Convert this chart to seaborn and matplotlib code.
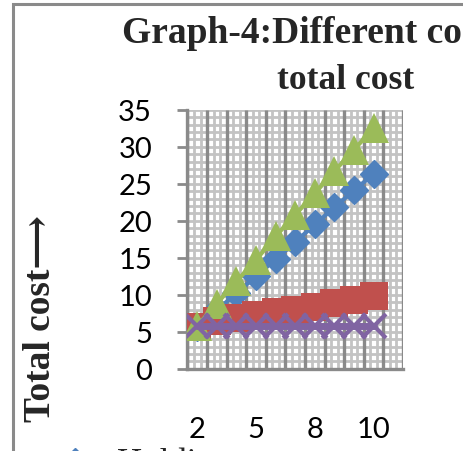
import numpy as np
import pandas as pd
import matplotlib
matplotlib.use("Agg")
import matplotlib.pyplot as plt
import seaborn as sns
from matplotlib.lines import Line2D
from matplotlib.patches import Rectangle

# ---------------- data ----------------
holding_cost = [5.6, 7.9, 10.2, 12.5, 14.8, 17.1, 19.5, 21.8, 24.1, 26.3]
second_cost = [5.7, 6.4, 6.9, 7.3, 7.6, 8.0, 8.4, 8.9, 9.3, 9.8]
total_cost = [5.8, 8.8, 11.8, 14.7, 17.9, 20.8, 23.7, 26.7, 29.6, 32.5]
fourth_cost = [5.8, 5.8, 5.8, 5.8, 5.8, 5.8, 5.8, 5.8, 5.8, 5.8]
x_tick_index = [0, 3, 6, 9]
x_tick_labels = ["2", "5", "8", "10"]
y_ticks = [0, 5, 10, 15, 20, 25, 30, 35]

# ---------------- figure ----------------
W, H = 464, 452
sns.set_style("white")
plt.rcParams["font.family"] = ["Lato", "DejaVu Sans"]

def fx(px):
    return px / W

def fy(py):
    return 1 - py / H

fig = plt.figure(figsize=(W / 100, H / 100), dpi=100)
ax = fig.add_axes([fx(187.5), fy(369.7), (403 - 187.5) / W, (369.7 - 110.7) / H])

n_cat = len(holding_cost)
idx = np.arange(n_cat)
df = pd.DataFrame({"cat": idx, "holding": holding_cost, "second": second_cost,
                   "total": total_cost, "fourth": fourth_cost})

light = "#c3c3c3"
dark = "#8a8a8a"

# grid
ax.set_xlim(-0.5, n_cat + 0.5)
ax.set_ylim(0, 35)
ax.set_yticks(y_ticks)
ax.set_yticks(np.arange(0, 36, 1), minor=True)
ax.grid(which="both", axis="y", color=light, lw=2, zorder=0)
bounds = np.arange(-0.5, n_cat + 0.6, 1)
thirds = np.concatenate([bounds[:-1] + 1 / 3, bounds[:-1] + 2 / 3])
ax.vlines(thirds, 0, 35, color=light, lw=2, zorder=0.5)
ax.vlines(bounds, 0, 35, color=dark, lw=2.4, zorder=0.6)
ax.set_axisbelow(True)

specs = [
    ("holding", "#4F81BD", "D", 14, 3, 1),
    ("second", "#C0504D", "s", 20, 3, 0),
    ("total", "#9BBB59", "^", 21, 3, 0),
    ("fourth", "#8064A2", "x", 17, 5, 3),
]
for i, (col, c, m, ms, lw, mew) in enumerate(specs):
    sns.lineplot(data=df, x="cat", y=col, ax=ax, color=c, marker=m, markersize=ms,
                 linewidth=lw, markeredgecolor=c, markeredgewidth=mew if mew else 0,
                 legend=False, zorder=3 + i)

# ticks
ax.set_xticks(x_tick_index)
ax.set_xticklabels(x_tick_labels)
ax.set_xticks(bounds, minor=True)
ax.tick_params(axis="x", which="major", length=0, pad=34, labelsize=21, colors="black")
ax.tick_params(axis="x", which="minor", length=9, width=2, color=dark, direction="out")
ax.tick_params(axis="y", which="major", length=7.5, width=2, color=dark, pad=18, labelsize=21,
               labelcolor="black", direction="out", left=True)
ax.tick_params(axis="y", which="minor", length=0)
ax.set_xlabel("")
ax.set_ylabel("")
for s in ["top", "right"]:
    ax.spines[s].set_visible(False)
for s in ["left", "bottom"]:
    ax.spines[s].set_color(dark)
    ax.spines[s].set_linewidth(2.4)

serif = ["Liberation Serif", "DejaVu Serif", "DejaVu Sans"]

# title (cut off by the image edge as in the reference)
fig.text(fx(122), fy(43), "Graph-4:Different costs vs", ha="left", va="baseline",
         fontsize=27, fontweight="bold", family=serif)
fig.text(fx(346), fy(89), "total cost", ha="center", va="baseline",
         fontsize=25.5, fontweight="bold", family=serif)

# y label
fig.text(fx(41), fy(318), "Total cost\u27f6", rotation=90, ha="center", va="center",
         fontsize=27, fontweight="bold", family=serif)

# chart border
fig.patches.append(Rectangle((fx(13), -1), 2, fy(5) + 1, transform=fig.transFigure,
                             fill=False, edgecolor=dark, lw=2.2))

# legend fragment at the bottom (cut off)
fig.lines.append(Line2D([fx(55), fx(95)], [fy(460), fy(460)], transform=fig.transFigure,
                        color="#4F81BD", lw=3))
fig.lines.append(Line2D([fx(75)], [fy(459)], transform=fig.transFigure, color="#4F81BD",
                        marker="D", markersize=10, lw=0))
fig.text(fx(117), fy(473), "Holding cost", ha="left", va="baseline", fontsize=25, family=serif)

fig.savefig("out.png", dpi=100)
